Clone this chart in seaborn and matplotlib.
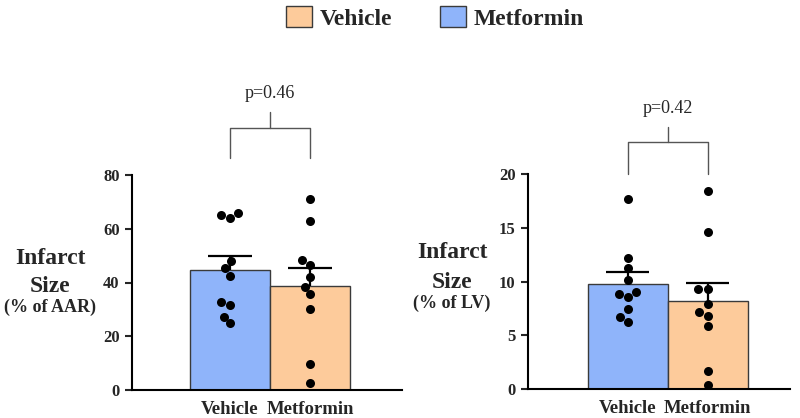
import pandas as pd
import numpy as np
import matplotlib
matplotlib.use("Agg")
import matplotlib.pyplot as plt
from matplotlib.patches import Patch
import seaborn as sns

# values
groups = ["Vehicle", "Metformin"]
aar_vehicle = [63.9, 65.7, 65.1, 48.0, 45.3, 42.4, 32.7, 31.5, 27.3, 24.8]
aar_metformin = [71.0, 63.0, 48.4, 46.5, 42.2, 38.4, 35.6, 30.3, 9.8, 2.5]
lv_vehicle = [17.7, 12.2, 11.3, 10.1, 8.6, 8.8, 9.0, 7.4, 6.7, 6.2]
lv_metformin = [18.4, 14.6, 9.3, 9.3, 7.9, 7.2, 6.8, 5.9, 1.7, 0.4]
p_values = ["p=0.46", "p=0.42"]
bar_colors = {"Vehicle": "#8fb4fa", "Metformin": "#fdcb9b"}
legend_colors = {"Vehicle": "#fdcb9b", "Metformin": "#8fb4fa"}

sns.set_style("white")
plt.rcParams["font.family"] = ["Liberation Serif", "DejaVu Serif"]

fig = plt.figure(figsize=(8, 4.18), dpi=100)
W, H = 800, 418


def px_axes(x0, x1, y_top, y_bot):
    return fig.add_axes([x0 / W, 1 - y_bot / H, (x1 - x0) / W, (y_bot - y_top) / H])


ax1 = px_axes(132, 402, 175, 390)
ax2 = px_axes(528, 790, 174, 389)


def panel(ax, veh, met, ymax, step, xlim, bracket):
    df = pd.DataFrame({
        "group": ["Vehicle"] * len(veh) + ["Metformin"] * len(met),
        "value": veh + met,
    })
    sns.barplot(data=df, x="group", y="value", hue="group", order=groups,
                palette=bar_colors, errorbar=None, width=1.0, legend=False,
                saturation=1, edgecolor="#3a3a3a", linewidth=1.0, ax=ax,
                zorder=1)
    # mean + SEM, upper half only
    stats = df.groupby("group")["value"].agg(["mean", "sem"]).reindex(groups)
    xs = np.arange(len(groups))
    tops = stats["mean"] + stats["sem"]
    ax.vlines(xs, stats["mean"], tops, color="black", lw=1.6, zorder=3)
    ax.hlines(tops, xs - 0.27, xs + 0.27, color="black", lw=1.6, zorder=3)
    sns.swarmplot(data=df, x="group", y="value", order=groups, color="black",
                  size=6.5, ax=ax, zorder=4)
    ax.set_ylim(0, ymax)
    ax.set_xlim(*xlim)
    ax.set_yticks(np.arange(0, ymax + 0.1, step))
    ax.set_xlabel("")
    ax.set_ylabel("")
    for s in ["top", "right"]:
        ax.spines[s].set_visible(False)
    for s in ["left", "bottom"]:
        ax.spines[s].set_color("black")
        ax.spines[s].set_linewidth(1.5)
    ax.tick_params(axis="y", left=True, length=5, width=1.5, pad=4,
                   labelsize=12)
    ax.tick_params(axis="x", length=0, pad=8, labelsize=13.5)
    for lab in ax.get_xticklabels() + ax.get_yticklabels():
        lab.set_fontweight("bold")

    # significance bracket
    leg_bot, hor, top, txt_y, label = bracket
    ax.plot([0, 0, 1, 1], [leg_bot, hor, hor, leg_bot], color="#555555",
            lw=1.0, clip_on=False)
    ax.plot([0.5, 0.5], [hor, top], color="#555555", lw=1.0, clip_on=False)
    ax.text(0.5, txt_y, label, ha="center", va="center", fontsize=13)


panel(ax1, aar_vehicle, aar_metformin, 80, 20, (-1.225, 2.15),
      (86.3, 97.6, 103.6, 110.5, p_values[0]))
panel(ax2, lv_vehicle, lv_metformin, 20, 5, (-1.25, 2.03),
      (20.0, 22.95, 24.4, 26.1, p_values[1]))

# y labels
for x, ys, unit in [(50, (258, 287, 307), "(% of AAR)"),
                    (452, (253, 282, 303), "(% of LV)")]:
    fig.text(x / W, 1 - ys[0] / H, "Infarct", ha="center", va="center",
             fontsize=17, fontweight="bold")
    fig.text(x / W, 1 - ys[1] / H, "Size", ha="center", va="center",
             fontsize=17, fontweight="bold")
    fig.text(x / W, 1 - ys[2] / H, unit, ha="center", va="center",
             fontsize=13, fontweight="bold")

# legend
handles = [Patch(facecolor=legend_colors[g], edgecolor="#3a3a3a", lw=1.0, label=g)
           for g in groups]
fig.legend(handles=handles, loc="center", bbox_to_anchor=(435 / W, 1 - 18 / H),
           ncol=2, frameon=False, handlelength=1.1, handleheight=1.0,
           handletextpad=0.35, columnspacing=2.0,
           prop={"weight": "bold", "size": 17})

fig.savefig("out.png", dpi=100)
plt.close(fig)
